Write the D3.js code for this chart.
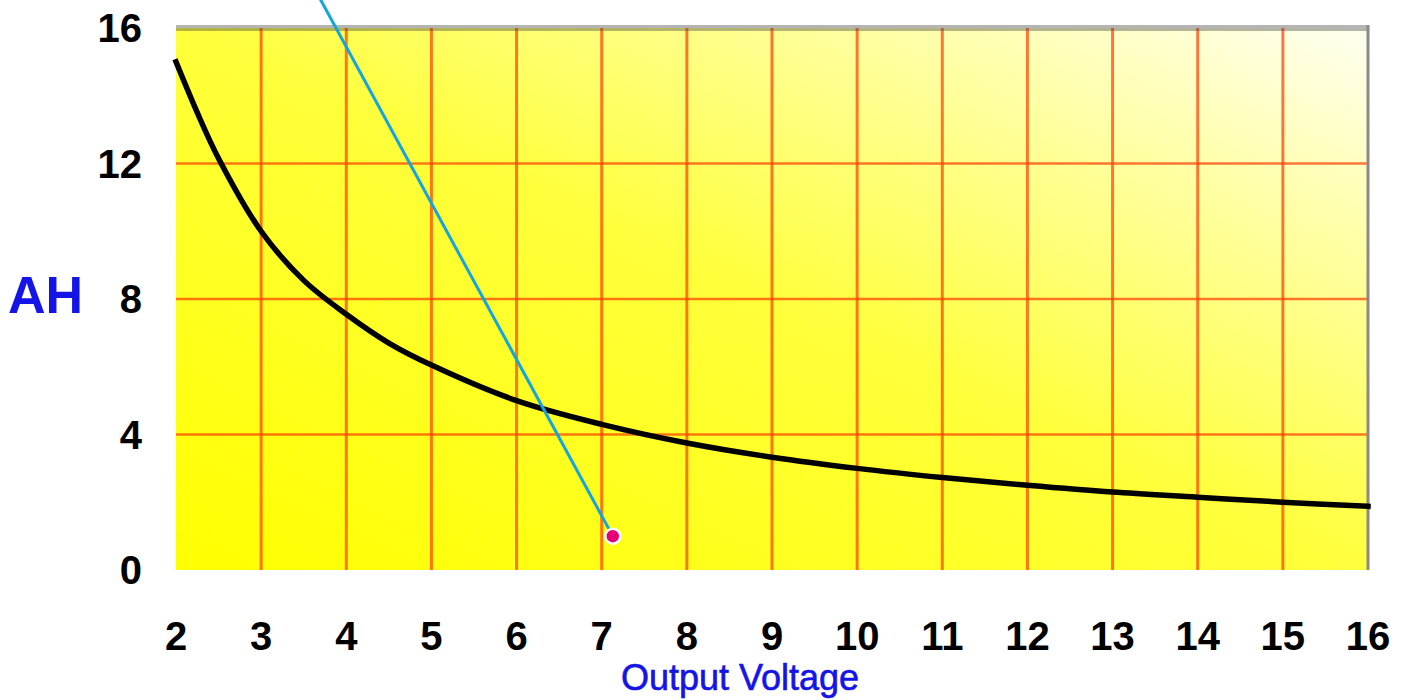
<!DOCTYPE html>
<html>
<head>
<meta charset="utf-8">
<script src="https://cdn.jsdelivr.net/npm/d3@7"></script>
<style>
  body { margin: 0; background: #fff; }
  svg { display: block; }
</style>
</head>
<body>
<svg id="chart"></svg>
<script>
// values
const voltage = [2, 2.25, 2.5, 3, 3.5, 4, 4.5, 5, 6, 7, 8, 9, 10, 11, 12, 13, 14, 15, 16]
const ampHours = [15, 13.5, 12.15, 10, 8.55, 7.55, 6.7, 6.05, 5, 4.3, 3.75, 3.33, 3, 2.73, 2.5, 2.3, 2.15, 2, 1.88]
const xTicks = [2, 3, 4, 5, 6, 7, 8, 9, 10, 11, 12, 13, 14, 15, 16]
const yTicks = [0, 4, 8, 12, 16]
// pointer line: far end (off the top) and the marked point
const pointerV = [3.63, 7.13]
const pointerAH = [17.15, 1.0]

const margin = {top: 28, right: 34, bottom: 130, left: 176},
    width = 1402 - margin.left - margin.right,
    height = 700 - margin.top - margin.bottom

const svgRoot = d3.select("#chart")
    .attr("width", 1402)
    .attr("height", 700)

const defs = svgRoot.append("defs")
const grad = defs.append("linearGradient")
    .attr("id", "bg")
    .attr("x1", 0).attr("y1", 1)
    .attr("x2", 1).attr("y2", 0)
grad.append("stop").attr("offset", 0).attr("stop-color", "#ffff00")
grad.append("stop").attr("offset", 0.5).attr("stop-color", "#ffff3c")
grad.append("stop").attr("offset", 0.8).attr("stop-color", "#ffffa8")
grad.append("stop").attr("offset", 1).attr("stop-color", "#fffff2")

const svg = svgRoot.append("g")
    .attr("transform", "translate(" + margin.left + "," + margin.top + ")")

const x = d3.scaleLinear().domain([2, 16]).range([0, width])
const y = d3.scaleLinear().domain([0, 16]).range([height, 0])

svg.append("rect")
    .attr("width", width)
    .attr("height", height)
    .attr("fill", "url(#bg)")

// grid
svg.append("g")
    .selectAll("line")
    .data(xTicks.slice(1, -1))
    .join("line")
    .attr("x1", d => x(d)).attr("x2", d => x(d))
    .attr("y1", 0).attr("y2", height)
    .attr("stroke", "#ff3c00")
    .attr("stroke-opacity", 0.7)
    .attr("stroke-width", 3)
svg.append("g")
    .selectAll("line")
    .data(yTicks.slice(1, -1))
    .join("line")
    .attr("x1", 0).attr("x2", width)
    .attr("y1", d => y(d)).attr("y2", d => y(d))
    .attr("stroke", "#ff3c00")
    .attr("stroke-opacity", 0.7)
    .attr("stroke-width", 2.5)

// top and right border
svg.append("line")
    .attr("x1", 0).attr("x2", width)
    .attr("y1", y(16)).attr("y2", y(16))
    .attr("stroke", "#444")
    .attr("stroke-opacity", 0.4)
    .attr("stroke-width", 6)
svg.append("line")
    .attr("x1", x(16)).attr("x2", x(16))
    .attr("y1", y(16) - 3).attr("y2", height)
    .attr("stroke", "#8a8a8a")
    .attr("stroke-width", 3)

// curve
const pts = voltage.map((v, i) => ({v: v, ah: ampHours[i]}))
svg.append("path")
    .datum(pts)
    .attr("fill", "none")
    .attr("stroke", "#000")
    .attr("stroke-width", 5.5)
    .attr("stroke-linecap", "square")
    .attr("d", d3.line().x(d => x(d.v)).y(d => y(d.ah)).curve(d3.curveCatmullRom.alpha(0.5)))

// pointer
const ptr = pointerV.map((v, i) => ({v: v, ah: pointerAH[i]}))
svg.append("path")
    .datum(ptr)
    .attr("fill", "none")
    .attr("stroke", "#12a6e0")
    .attr("stroke-width", 3)
    .attr("d", d3.line().x(d => x(d.v)).y(d => y(d.ah)))
svg.append("circle")
    .attr("cx", x(ptr[1].v))
    .attr("cy", y(ptr[1].ah))
    .attr("r", 7.5)
    .attr("fill", "#e5007a")
    .attr("stroke", "#fff")
    .attr("stroke-width", 2.5)

// tick labels
svg.append("g")
    .selectAll("text")
    .data(yTicks)
    .join("text")
    .attr("x", -34)
    .attr("y", d => y(d))
    .attr("dy", "0.36em")
    .attr("text-anchor", "end")
    .style("font-family", "Liberation Sans, Arial, sans-serif")
    .style("font-weight", "bold")
    .style("font-size", "40px")
    .text(d => d)
svg.append("g")
    .selectAll("text")
    .data(xTicks)
    .join("text")
    .attr("x", d => x(d))
    .attr("y", height + 66)
    .attr("dy", "0.36em")
    .attr("text-anchor", "middle")
    .style("font-family", "Liberation Sans, Arial, sans-serif")
    .style("font-weight", "bold")
    .style("font-size", "40px")
    .text(d => d)

// axis titles
svgRoot.append("text")
    .attr("x", 8)
    .attr("y", 313)
    .attr("fill", "#1414e6")
    .style("font-family", "Liberation Sans, Arial, sans-serif")
    .style("font-weight", "bold")
    .style("font-size", "52px")
    .text("AH")
svgRoot.append("text")
    .attr("x", 740)
    .attr("y", 690)
    .attr("text-anchor", "middle")
    .attr("fill", "#1414e6")
    .style("font-family", "Liberation Sans, Arial, sans-serif")
    .style("font-size", "36px")
    .style("stroke", "#1414e6")
    .style("stroke-width", 0.6)
    .text("Output Voltage")
</script>
</body>
</html>
